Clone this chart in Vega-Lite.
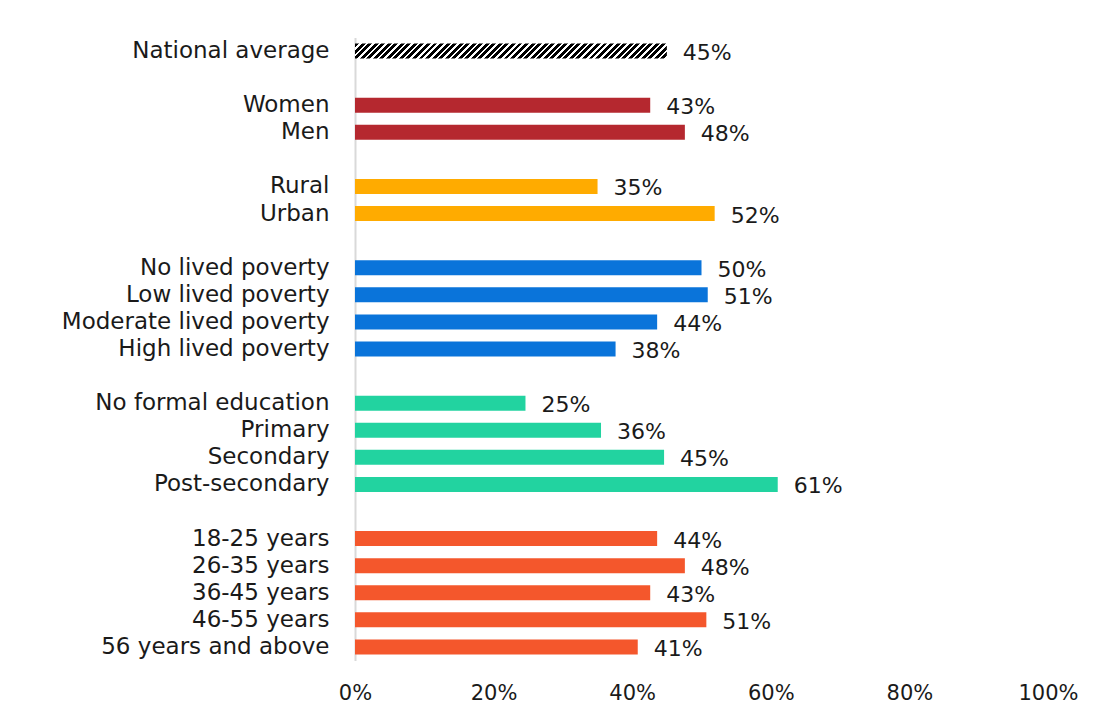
{
  "$schema": "https://vega.github.io/schema/vega-lite/v6.json",
  "width": 693,
  "height": 623,
  "autosize": {"type": "none"},
  "padding": {"left": 355, "top": 37.5, "right": 45, "bottom": 58},
  "background": "white",
  "config": {
    "view": {"stroke": null},
    "font": "DejaVu Sans",
    "axis": {"labelFont": "DejaVu Sans", "labelColor": "#1a1a1a"}
  },
  "data": {
    "values": [
      {"cat": "National average", "grp": "nat", "v": 0.45},
      {"cat": "Women", "grp": "gender", "v": 0.426},
      {"cat": "Men", "grp": "gender", "v": 0.476},
      {"cat": "Rural", "grp": "loc", "v": 0.350},
      {"cat": "Urban", "grp": "loc", "v": 0.519},
      {"cat": "No lived poverty", "grp": "pov", "v": 0.50},
      {"cat": "Low lived poverty", "grp": "pov", "v": 0.509},
      {"cat": "Moderate lived poverty", "grp": "pov", "v": 0.436},
      {"cat": "High lived poverty", "grp": "pov", "v": 0.376},
      {"cat": "No formal education", "grp": "edu", "v": 0.246},
      {"cat": "Primary", "grp": "edu", "v": 0.355},
      {"cat": "Secondary", "grp": "edu", "v": 0.446},
      {"cat": "Post-secondary", "grp": "edu", "v": 0.610},
      {"cat": "18-25 years", "grp": "age", "v": 0.436},
      {"cat": "26-35 years", "grp": "age", "v": 0.476},
      {"cat": "36-45 years", "grp": "age", "v": 0.426},
      {"cat": "46-55 years", "grp": "age", "v": 0.507},
      {"cat": "56 years and above", "grp": "age", "v": 0.408}
    ]
  },
  "encoding": {
    "y": {
      "field": "cat",
      "type": "nominal",
      "title": null,
      "scale": {
        "domain": ["National average", "_1", "Women", "Men", "_2", "Rural", "Urban", "_3", "No lived poverty", "Low lived poverty", "Moderate lived poverty", "High lived poverty", "_4", "No formal education", "Primary", "Secondary", "Post-secondary", "_5", "18-25 years", "26-35 years", "36-45 years", "46-55 years", "56 years and above"],
        "paddingInner": 0.446,
        "paddingOuter": 0.223
      },
      "axis": {
        "labelExpr": "slice(datum.label,0,1)=='_' ? '' : datum.label",
        "ticks": false,
        "labelPadding": 26,
        "labelFontSize": 23,
        "labelLimit": 400,
        "domainColor": "#d9d9d9",
        "domainWidth": 2,
        "grid": false
      }
    },
    "x": {
      "field": "v",
      "type": "quantitative",
      "title": null,
      "scale": {"domain": [0, 1], "nice": false},
      "axis": {
        "values": [0, 0.2, 0.4, 0.6, 0.8, 1],
        "format": ".0%",
        "grid": false,
        "domain": false,
        "ticks": false,
        "labelPadding": 22,
        "labelFontSize": 21,
        "labelFlush": false
      }
    }
  },
  "layer": [
    {
      "transform": [{"filter": "datum.grp == 'nat'"}],
      "mark": {
        "type": "bar",
        "fill": {
          "gradient": "linear",
          "x1": 0, "y1": 0, "x2": 1.046, "y2": 0.0502,
          "stops": [
            {"offset":0,"color":"#000"},{"offset":0.012,"color":"#000"},{"offset":0.012,"color":"#fff"},{"offset":0.02,"color":"#fff"},
            {"offset":0.02,"color":"#000"},{"offset":0.032,"color":"#000"},{"offset":0.032,"color":"#fff"},{"offset":0.04,"color":"#fff"},
            {"offset":0.04,"color":"#000"},{"offset":0.052,"color":"#000"},{"offset":0.052,"color":"#fff"},{"offset":0.06,"color":"#fff"},
            {"offset":0.06,"color":"#000"},{"offset":0.072,"color":"#000"},{"offset":0.072,"color":"#fff"},{"offset":0.08,"color":"#fff"},
            {"offset":0.08,"color":"#000"},{"offset":0.092,"color":"#000"},{"offset":0.092,"color":"#fff"},{"offset":0.10,"color":"#fff"},
            {"offset":0.10,"color":"#000"},{"offset":0.112,"color":"#000"},{"offset":0.112,"color":"#fff"},{"offset":0.12,"color":"#fff"},
            {"offset":0.12,"color":"#000"},{"offset":0.132,"color":"#000"},{"offset":0.132,"color":"#fff"},{"offset":0.14,"color":"#fff"},
            {"offset":0.14,"color":"#000"},{"offset":0.152,"color":"#000"},{"offset":0.152,"color":"#fff"},{"offset":0.16,"color":"#fff"},
            {"offset":0.16,"color":"#000"},{"offset":0.172,"color":"#000"},{"offset":0.172,"color":"#fff"},{"offset":0.18,"color":"#fff"},
            {"offset":0.18,"color":"#000"},{"offset":0.192,"color":"#000"},{"offset":0.192,"color":"#fff"},{"offset":0.20,"color":"#fff"},
            {"offset":0.20,"color":"#000"},{"offset":0.212,"color":"#000"},{"offset":0.212,"color":"#fff"},{"offset":0.22,"color":"#fff"},
            {"offset":0.22,"color":"#000"},{"offset":0.232,"color":"#000"},{"offset":0.232,"color":"#fff"},{"offset":0.24,"color":"#fff"},
            {"offset":0.24,"color":"#000"},{"offset":0.252,"color":"#000"},{"offset":0.252,"color":"#fff"},{"offset":0.26,"color":"#fff"},
            {"offset":0.26,"color":"#000"},{"offset":0.272,"color":"#000"},{"offset":0.272,"color":"#fff"},{"offset":0.28,"color":"#fff"},
            {"offset":0.28,"color":"#000"},{"offset":0.292,"color":"#000"},{"offset":0.292,"color":"#fff"},{"offset":0.30,"color":"#fff"},
            {"offset":0.30,"color":"#000"},{"offset":0.312,"color":"#000"},{"offset":0.312,"color":"#fff"},{"offset":0.32,"color":"#fff"},
            {"offset":0.32,"color":"#000"},{"offset":0.332,"color":"#000"},{"offset":0.332,"color":"#fff"},{"offset":0.34,"color":"#fff"},
            {"offset":0.34,"color":"#000"},{"offset":0.352,"color":"#000"},{"offset":0.352,"color":"#fff"},{"offset":0.36,"color":"#fff"},
            {"offset":0.36,"color":"#000"},{"offset":0.372,"color":"#000"},{"offset":0.372,"color":"#fff"},{"offset":0.38,"color":"#fff"},
            {"offset":0.38,"color":"#000"},{"offset":0.392,"color":"#000"},{"offset":0.392,"color":"#fff"},{"offset":0.40,"color":"#fff"},
            {"offset":0.40,"color":"#000"},{"offset":0.412,"color":"#000"},{"offset":0.412,"color":"#fff"},{"offset":0.42,"color":"#fff"},
            {"offset":0.42,"color":"#000"},{"offset":0.432,"color":"#000"},{"offset":0.432,"color":"#fff"},{"offset":0.44,"color":"#fff"},
            {"offset":0.44,"color":"#000"},{"offset":0.452,"color":"#000"},{"offset":0.452,"color":"#fff"},{"offset":0.46,"color":"#fff"},
            {"offset":0.46,"color":"#000"},{"offset":0.472,"color":"#000"},{"offset":0.472,"color":"#fff"},{"offset":0.48,"color":"#fff"},
            {"offset":0.48,"color":"#000"},{"offset":0.492,"color":"#000"},{"offset":0.492,"color":"#fff"},{"offset":0.50,"color":"#fff"},
            {"offset":0.50,"color":"#000"},{"offset":0.512,"color":"#000"},{"offset":0.512,"color":"#fff"},{"offset":0.52,"color":"#fff"},
            {"offset":0.52,"color":"#000"},{"offset":0.532,"color":"#000"},{"offset":0.532,"color":"#fff"},{"offset":0.54,"color":"#fff"},
            {"offset":0.54,"color":"#000"},{"offset":0.552,"color":"#000"},{"offset":0.552,"color":"#fff"},{"offset":0.56,"color":"#fff"},
            {"offset":0.56,"color":"#000"},{"offset":0.572,"color":"#000"},{"offset":0.572,"color":"#fff"},{"offset":0.58,"color":"#fff"},
            {"offset":0.58,"color":"#000"},{"offset":0.592,"color":"#000"},{"offset":0.592,"color":"#fff"},{"offset":0.60,"color":"#fff"},
            {"offset":0.60,"color":"#000"},{"offset":0.612,"color":"#000"},{"offset":0.612,"color":"#fff"},{"offset":0.62,"color":"#fff"},
            {"offset":0.62,"color":"#000"},{"offset":0.632,"color":"#000"},{"offset":0.632,"color":"#fff"},{"offset":0.64,"color":"#fff"},
            {"offset":0.64,"color":"#000"},{"offset":0.652,"color":"#000"},{"offset":0.652,"color":"#fff"},{"offset":0.66,"color":"#fff"},
            {"offset":0.66,"color":"#000"},{"offset":0.672,"color":"#000"},{"offset":0.672,"color":"#fff"},{"offset":0.68,"color":"#fff"},
            {"offset":0.68,"color":"#000"},{"offset":0.692,"color":"#000"},{"offset":0.692,"color":"#fff"},{"offset":0.70,"color":"#fff"},
            {"offset":0.70,"color":"#000"},{"offset":0.712,"color":"#000"},{"offset":0.712,"color":"#fff"},{"offset":0.72,"color":"#fff"},
            {"offset":0.72,"color":"#000"},{"offset":0.732,"color":"#000"},{"offset":0.732,"color":"#fff"},{"offset":0.74,"color":"#fff"},
            {"offset":0.74,"color":"#000"},{"offset":0.752,"color":"#000"},{"offset":0.752,"color":"#fff"},{"offset":0.76,"color":"#fff"},
            {"offset":0.76,"color":"#000"},{"offset":0.772,"color":"#000"},{"offset":0.772,"color":"#fff"},{"offset":0.78,"color":"#fff"},
            {"offset":0.78,"color":"#000"},{"offset":0.792,"color":"#000"},{"offset":0.792,"color":"#fff"},{"offset":0.80,"color":"#fff"},
            {"offset":0.80,"color":"#000"},{"offset":0.812,"color":"#000"},{"offset":0.812,"color":"#fff"},{"offset":0.82,"color":"#fff"},
            {"offset":0.82,"color":"#000"},{"offset":0.832,"color":"#000"},{"offset":0.832,"color":"#fff"},{"offset":0.84,"color":"#fff"},
            {"offset":0.84,"color":"#000"},{"offset":0.852,"color":"#000"},{"offset":0.852,"color":"#fff"},{"offset":0.86,"color":"#fff"},
            {"offset":0.86,"color":"#000"},{"offset":0.872,"color":"#000"},{"offset":0.872,"color":"#fff"},{"offset":0.88,"color":"#fff"},
            {"offset":0.88,"color":"#000"},{"offset":0.892,"color":"#000"},{"offset":0.892,"color":"#fff"},{"offset":0.90,"color":"#fff"},
            {"offset":0.90,"color":"#000"},{"offset":0.912,"color":"#000"},{"offset":0.912,"color":"#fff"},{"offset":0.92,"color":"#fff"},
            {"offset":0.92,"color":"#000"},{"offset":0.932,"color":"#000"},{"offset":0.932,"color":"#fff"},{"offset":0.94,"color":"#fff"},
            {"offset":0.94,"color":"#000"},{"offset":0.952,"color":"#000"},{"offset":0.952,"color":"#fff"},{"offset":0.96,"color":"#fff"},
            {"offset":0.96,"color":"#000"},{"offset":0.972,"color":"#000"},{"offset":0.972,"color":"#fff"},{"offset":0.98,"color":"#fff"},
            {"offset":0.98,"color":"#000"},{"offset":0.992,"color":"#000"},{"offset":0.992,"color":"#fff"},{"offset":1,"color":"#fff"}
          ]
        }
      }
    },
    {
      "transform": [{"filter": "datum.grp != 'nat'"}],
      "mark": {"type": "bar"},
      "encoding": {
        "color": {
          "field": "grp",
          "type": "nominal",
          "legend": null,
          "scale": {
            "domain": ["gender", "loc", "pov", "edu", "age"],
            "range": ["#b5282f", "#ffab00", "#0a74da", "#22d3a0", "#f4572c"]
          }
        }
      }
    },
    {
      "mark": {"type": "text", "align": "left", "baseline": "middle", "dx": 16, "dy": 2, "fontSize": 22, "color": "#1a1a1a"},
      "encoding": {
        "text": {"field": "v", "type": "quantitative", "format": ".0%"}
      }
    }
  ]
}
